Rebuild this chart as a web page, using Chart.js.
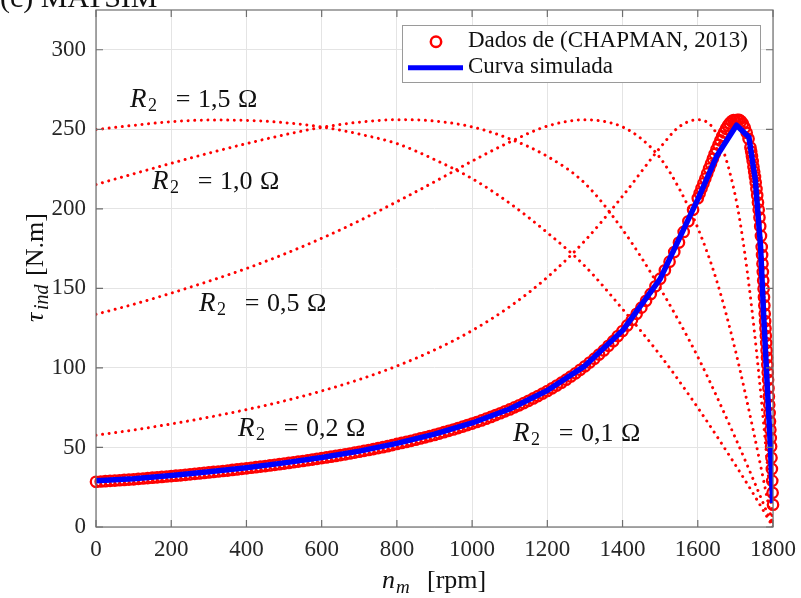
<!DOCTYPE html>
<html>
<head>
<meta charset="utf-8">
<script src="https://cdn.jsdelivr.net/npm/chart.js@4.4.0/dist/chart.umd.min.js"></script>
<style>
  html, body { margin: 0; padding: 0; background: #fff; }
</style>
</head>
<body>
<canvas id="chart" width="801" height="598"></canvas>
<script>
// torque-speed curves, values
var xTicks = [0, 200, 400, 600, 800, 1000, 1200, 1400, 1600, 1800];
var yTicks = [0, 50, 100, 150, 200, 250, 300];

var r15Speed = [0, 100, 200, 300, 400, 500, 600, 700, 800, 900, 1000, 1100, 1200, 1300, 1400, 1500, 1600, 1700, 1750, 1800];
var r15Torque = [249.8, 252.5, 254.8, 255.8, 255.6, 254.2, 251.5, 247, 241, 231, 219, 203.5, 185, 164, 137, 108, 75, 39, 20, 0];

var r10Speed = [0, 100, 200, 300, 400, 500, 600, 700, 800, 900, 1000, 1100, 1200, 1300, 1400, 1500, 1600, 1700, 1750, 1800];
var r10Torque = [215.3, 222, 228.6, 235, 241, 246.5, 251.2, 254.5, 256, 255.2, 251.5, 244, 233, 216, 187, 150, 107, 56, 28.5, 0];

var r05Speed = [0, 100, 200, 300, 400, 500, 600, 700, 800, 900, 1000, 1100, 1200, 1300, 1350, 1400, 1450, 1500, 1550, 1600, 1650, 1700, 1750, 1800];
var r05Torque = [133.7, 140, 147, 154.5, 162.5, 171.5, 181.5, 192.5, 204.5, 217, 230, 242, 252, 256, 255, 251.5, 244, 232, 213, 188, 155, 111, 58, 0];

var r02Speed = [0, 100, 200, 300, 400, 500, 600, 700, 800, 900, 1000, 1100, 1200, 1300, 1400, 1500, 1550, 1600, 1650, 1700, 1725, 1750, 1775, 1800];
var r02Torque = [57.7, 61, 64.8, 69, 73.8, 79.2, 85.5, 92.7, 101.2, 111.3, 123.5, 138.5, 157, 180, 208, 238.5, 251.5, 256, 247, 208, 172, 124, 65, 0];

var r01Speed = [0, 200, 400, 600, 800, 1000, 1200, 1300, 1400, 1500, 1600, 1650, 1700, 1730, 1750, 1770, 1780, 1790, 1800];
var r01Torque = [28.4, 32, 36.9, 43.3, 52.2, 65, 85.5, 101, 123.2, 156.1, 206.7, 237.5, 255.4, 247.8, 223.3, 176, 124.8, 72, 0];

// Chapman data (circles)
var dataSpeed = [
  0, 12.5, 25, 37.5, 50, 62.5, 75, 87.5, 100, 112.5, 125, 137.5, 150, 162.5, 175, 187.5,
  200, 212.5, 225, 237.5, 250, 262.5, 275, 287.5, 300, 312.5, 325, 337.5, 350, 362.5, 375, 387.5,
  400, 412.5, 425, 437.5, 450, 462.5, 475, 487.5, 500, 512.5, 525, 537.5, 550, 562.5, 575, 587.5,
  600, 612.5, 625, 637.5, 650, 662.5, 675, 687.5, 700, 712.5, 725, 737.5, 750, 762.5, 775, 787.5,
  800, 812.5, 825, 837.5, 850, 862.5, 875, 887.5, 900, 912.5, 925, 937.5, 950, 962.5, 975, 987.5,
  1000, 1012.5, 1025, 1037.5, 1050, 1062.5, 1075, 1087.5, 1100, 1112.5, 1125, 1137.5, 1150, 1162.5, 1175, 1187.5,
  1200, 1212.5, 1225, 1237.5, 1250, 1262.5, 1275, 1287.5, 1300, 1312.5, 1325, 1337.5, 1350, 1362.5, 1375, 1387.5,
  1400, 1412.5, 1425, 1437.5, 1450, 1462.5, 1475, 1487.5, 1500, 1512.5, 1525, 1537.5, 1550, 1562.5, 1575, 1587.5,
  1600, 1605, 1610, 1615, 1620, 1625, 1630, 1635, 1640, 1645, 1650, 1655, 1660, 1665, 1670, 1675, 1680, 1685, 1690, 1695,
  1700, 1705, 1710, 1715, 1720, 1725, 1730, 1735, 1740, 1742, 1744, 1746, 1748, 1750, 1752, 1754, 1756, 1758,
  1760, 1762, 1764, 1766, 1768, 1770, 1771, 1772, 1773, 1774, 1775, 1776, 1777, 1778, 1779,
  1780, 1781, 1782, 1783, 1784, 1785, 1786, 1787, 1788, 1789, 1790, 1791, 1792, 1793, 1794, 1795, 1796, 1797, 1798, 1799, 1800];
var dataTorque = [
  28.4, 28.6, 28.8, 29.0, 29.2, 29.4, 29.6, 29.8, 30.0, 30.25, 30.5, 30.75, 31.0, 31.25, 31.5, 31.75,
  32.0, 32.25, 32.5, 32.8, 33.1, 33.4, 33.7, 34.0, 34.3, 34.6, 34.9, 35.2, 35.5, 35.85, 36.2, 36.55,
  36.9, 37.25, 37.6, 37.95, 38.3, 38.7, 39.1, 39.5, 39.9, 40.3, 40.7, 41.1, 41.5, 41.95, 42.4, 42.85,
  43.3, 43.75, 44.2, 44.7, 45.2, 45.7, 46.2, 46.75, 47.3, 47.85, 48.4, 49.0, 49.6, 50.2, 50.8, 51.5,
  52.2, 52.85, 53.5, 54.2, 54.9, 55.65, 56.4, 57.15, 57.9, 58.75, 59.6, 60.45, 61.3, 62.2, 63.1, 64.05,
  65.0, 66.0, 67.0, 68.1, 69.2, 70.35, 71.5, 72.7, 73.9, 75.2, 76.5, 77.9, 79.3, 80.8, 82.3, 83.9,
  85.5, 87.2, 88.9, 90.7, 92.6, 94.6, 96.6, 98.8, 101.0, 103.4, 105.8, 108.4, 111.0, 113.9, 116.8, 120.0,
  123.2, 126.7, 130.2, 134.0, 137.9, 142.2, 146.5, 151.3, 156.1, 161.4, 166.8, 172.8, 178.8, 185.5, 192.2, 199.4,
  206.7, 209.8, 212.9, 216.0, 219.0, 222.2, 225.3, 228.4, 231.5, 234.5, 237.5, 240.3, 243.0, 245.6, 248.0, 250.3, 252.3, 253.8, 255.0, 255.8,
  255.4, 255.9, 256.0, 255.0, 253.5, 251.0, 247.8, 244.0, 238.5, 236.0, 233.0, 230.0, 226.5, 223.3, 220.0, 216.5, 212.5, 208.5,
  204.0, 199.5, 194.5, 189.0, 183.0, 176.0, 171.0, 165.5, 160.3, 155.0, 149.8, 144.5, 139.3, 134.0, 129.4,
  124.8, 120.2, 115.6, 111.0, 106.5, 101.8, 97.2, 92.5, 87.3, 82.0, 76.8, 71.6, 66.4, 61.1, 55.9, 50.6, 43.5, 36.5, 29.0, 21.5, 14.0];

// simulated curve (blue)
var simSpeed = [0, 100, 200, 300, 400, 500, 600, 700, 800, 900, 1000, 1100, 1200, 1300, 1400, 1500, 1600, 1650, 1703, 1736, 1753, 1767, 1775, 1784, 1793, 1799];
var simTorque = [29.0, 30.4, 32.4, 34.7, 37.3, 40.3, 43.7, 47.7, 52.6, 58.4, 65.4, 74.2, 85.8, 101.3, 123.5, 156, 206, 233, 252.6, 245, 218, 176, 134, 92.5, 50.6, 15];

var labels = [
  {text: '1,5', x: 130, y: 107},
  {text: '1,0', x: 152, y: 189},
  {text: '0,5', x: 199, y: 311},
  {text: '0,2', x: 238, y: 436},
  {text: '0,1', x: 513, y: 441}
];

var serif = "'Liberation Serif', 'Times New Roman', serif";
var red = '#ff0000';

function pts(xs, ys) {
  return xs.map(function (x, i) { return {x: x, y: ys[i]}; });
}

function dotted(xs, ys) {
  return {
    data: pts(xs, ys),
    showLine: true,
    borderColor: red,
    borderWidth: 3,
    borderDash: [0.01, 6.6],
    borderCapStyle: 'round',
    cubicInterpolationMode: 'monotone',
    pointRadius: 0,
    fill: false,
    order: 2
  };
}

var decor = {
  id: 'decor',
  afterDraw: function (chart) {
    var ctx = chart.ctx;
    var a = chart.chartArea;
    var xs = chart.scales.x, ys = chart.scales.y;
    ctx.save();

    // axes box and inward ticks
    ctx.strokeStyle = '#6e6e6e';
    ctx.lineWidth = 1.2;
    ctx.strokeRect(a.left, a.top, a.right - a.left, a.bottom - a.top);
    ctx.beginPath();
    xTicks.forEach(function (v) {
      var px = xs.getPixelForValue(v);
      ctx.moveTo(px, a.bottom); ctx.lineTo(px, a.bottom - 7);
      ctx.moveTo(px, a.top); ctx.lineTo(px, a.top + 7);
    });
    yTicks.forEach(function (v) {
      var py = ys.getPixelForValue(v);
      ctx.moveTo(a.left, py); ctx.lineTo(a.left + 7, py);
      ctx.moveTo(a.right, py); ctx.lineTo(a.right - 7, py);
    });
    ctx.stroke();

    // legend
    ctx.fillStyle = '#fff';
    ctx.fillRect(402, 25, 358, 57);
    ctx.strokeStyle = '#9a9a9a';
    ctx.lineWidth = 1;
    ctx.strokeRect(402.5, 25.5, 358, 57);
    ctx.strokeStyle = red;
    ctx.lineWidth = 2.5;
    ctx.beginPath();
    ctx.arc(436, 41.7, 5.2, 0, Math.PI * 2);
    ctx.stroke();
    ctx.strokeStyle = '#0000ff';
    ctx.lineWidth = 5;
    ctx.beginPath();
    ctx.moveTo(408, 67.7); ctx.lineTo(463, 67.7);
    ctx.stroke();
    ctx.fillStyle = '#111';
    ctx.textBaseline = 'alphabetic';
    ctx.textAlign = 'left';
    ctx.font = '23px ' + serif;
    ctx.fillText('Dados de (CHAPMAN, 2013)', 468, 47);
    ctx.fillText('Curva simulada', 468, 73);

    // R2 labels
    labels.forEach(function (l) {
      ctx.textAlign = 'left';
      ctx.font = 'italic 27px ' + serif;
      ctx.fillText('R', l.x, l.y);
      ctx.font = '18px ' + serif;
      ctx.fillText('2', l.x + 18, l.y + 4);
      ctx.font = '26px ' + serif;
      ctx.textAlign = 'center';
      ctx.fillText('=', l.x + 53, l.y);
      ctx.textAlign = 'left';
      ctx.fillText(l.text, l.x + 68, l.y);
      ctx.fillText('\u03A9', l.x + 108, l.y);
    });

    // x axis title
    ctx.font = 'italic 26px ' + serif;
    ctx.fillText('n', 382, 588);
    ctx.font = 'italic 19px ' + serif;
    ctx.fillText('m', 396, 593);
    ctx.font = '26px ' + serif;
    ctx.fillText('[rpm]', 427, 588);

    // y axis title
    ctx.save();
    ctx.translate(43, 268);
    ctx.rotate(-Math.PI / 2);
    ctx.font = 'italic 26px ' + serif;
    ctx.fillText('\u03C4', -54, 0);
    ctx.font = 'italic 20px ' + serif;
    ctx.fillText('ind', -42, 5);
    ctx.font = '26px ' + serif;
    ctx.fillText('[N.m]', -8, 0);
    ctx.restore();

    // panel title, cut by the top edge
    ctx.font = '30px ' + serif;
    ctx.fillText('(c) MATSIM', 0, 7);
    ctx.restore();
  }
};

new Chart(document.getElementById('chart').getContext('2d'), {
  type: 'scatter',
  data: {
    datasets: [
      {
        label: 'Curva simulada',
        data: pts(simSpeed, simTorque),
        showLine: true,
        borderColor: '#0000ff',
        borderWidth: 5.5,
        borderJoinStyle: 'round',
        pointRadius: 0,
        tension: 0,
        fill: false,
        order: 0
      },
      {
        label: 'Dados de (CHAPMAN, 2013)',
        data: pts(dataSpeed, dataTorque),
        showLine: false,
        pointRadius: 5.2,
        pointBorderWidth: 2.3,
        pointBorderColor: red,
        pointBackgroundColor: 'rgba(0,0,0,0)',
        clip: false,
        order: 1
      },
      dotted(r15Speed, r15Torque),
      dotted(r10Speed, r10Torque),
      dotted(r05Speed, r05Torque),
      dotted(r02Speed, r02Torque),
      dotted(r01Speed, r01Torque)
    ]
  },
  options: {
    responsive: false,
    animation: false,
    events: [],
    layout: {padding: {left: 0, right: 28, top: 10, bottom: 0}},
    plugins: {legend: {display: false}, tooltip: {enabled: false}},
    scales: {
      x: {
        type: 'linear',
        min: 0,
        max: 1800,
        ticks: {
          stepSize: 200, color: '#262626', padding: 9, maxRotation: 0,
          font: {family: serif, size: 23},
          callback: function (v) { return String(v); }
        },
        grid: {color: '#e4e4e4', drawTicks: false},
        border: {display: false},
        afterFit: function (s) { s.height = 71; s.paddingLeft = 0; s.paddingRight = 0; }
      },
      y: {
        type: 'linear',
        min: 0,
        max: 325,
        ticks: {stepSize: 50, color: '#262626', padding: 10, font: {family: serif, size: 23}},
        grid: {color: '#e4e4e4', drawTicks: false},
        border: {display: false},
        afterBuildTicks: function (s) {
          s.ticks = s.ticks.filter(function (t) { return yTicks.indexOf(t.value) >= 0; });
        },
        afterFit: function (s) { s.width = 96; s.paddingTop = 0; s.paddingBottom = 0; }
      }
    }
  },
  plugins: [decor]
});
</script>
</body>
</html>
